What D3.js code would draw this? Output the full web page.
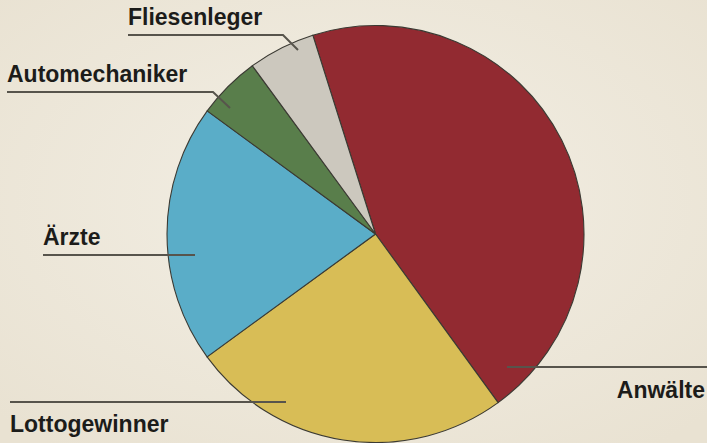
<!DOCTYPE html>
<html>
<head>
<meta charset="utf-8">
<script src="https://cdn.jsdelivr.net/npm/d3@7/dist/d3.min.js"></script>
<style>
html,body{margin:0;padding:0;background:#eee8da;}
svg{display:block;}
</style>
</head>
<body>
<svg id="chart" width="707" height="443"></svg>
<script>
const categories = ["Anwälte", "Lottogewinner", "Ärzte", "Automechaniker", "Fliesenleger"];
const values = [44.9, 25, 20.1, 4.9, 5.2];
const colors = ["#922a31", "#d8bd56", "#5aadc8", "#597e4b", "#ccc8be"];

const W = 707, H = 443;
const cx = 375.5, cy = 234, R = 208.5;
const svg = d3.select("#chart");

const defs = svg.append("defs");
const grad = defs.append("radialGradient").attr("id", "bg").attr("cx", "50%").attr("cy", "45%").attr("r", "70%");
grad.append("stop").attr("offset", "0%").attr("stop-color", "#f3efe5");
grad.append("stop").attr("offset", "100%").attr("stop-color", "#e9e2d2");
svg.append("rect").attr("width", W).attr("height", H).attr("fill", "url(#bg)");

const start = -17.5 * Math.PI / 180;
const pie = d3.pie().sort(null).startAngle(start).endAngle(start + 2 * Math.PI);
const arc = d3.arc().innerRadius(0).outerRadius(R);
const arcs = pie(values);

const g = svg.append("g").attr("transform", `translate(${cx},${cy})`);
g.selectAll("path").data(arcs).enter().append("path")
  .attr("d", arc)
  .attr("fill", (d, i) => colors[i])
  .attr("stroke", "#3b3a33")
  .attr("stroke-width", 1.1)
  .attr("stroke-linejoin", "round");

// label layout (positions only)
const layout = {
  "Fliesenleger":   {tx: 128, ty: 25,  anchor: "start", pts: [[128,35],[283,35],[298,50]]},
  "Automechaniker": {tx: 7,   ty: 82,  anchor: "start", pts: [[7,92],[213,92],[230,108]]},
  "Ärzte":          {tx: 43,  ty: 245, anchor: "start", pts: [[43,255],[195,255]]},
  "Lottogewinner":  {tx: 10,  ty: 432, anchor: "start", pts: [[10,402],[286,402]]},
  "Anwälte":        {tx: 705, ty: 398, anchor: "end",   pts: [[507,367],[707,367]]}
};

const line = d3.line();
categories.forEach(c => {
  const L = layout[c];
  svg.append("path").attr("d", line(L.pts))
    .attr("fill", "none").attr("stroke", "#57544c").attr("stroke-width", 2);
  svg.append("text").attr("x", L.tx).attr("y", L.ty)
    .attr("text-anchor", L.anchor)
    .attr("font-family", "'Liberation Sans', Arial, Helvetica, sans-serif")
    .attr("font-weight", "bold")
    .attr("font-size", 23)
    .attr("fill", "#1c1c1a")
    .text(c);
});
</script>
</body>
</html>
